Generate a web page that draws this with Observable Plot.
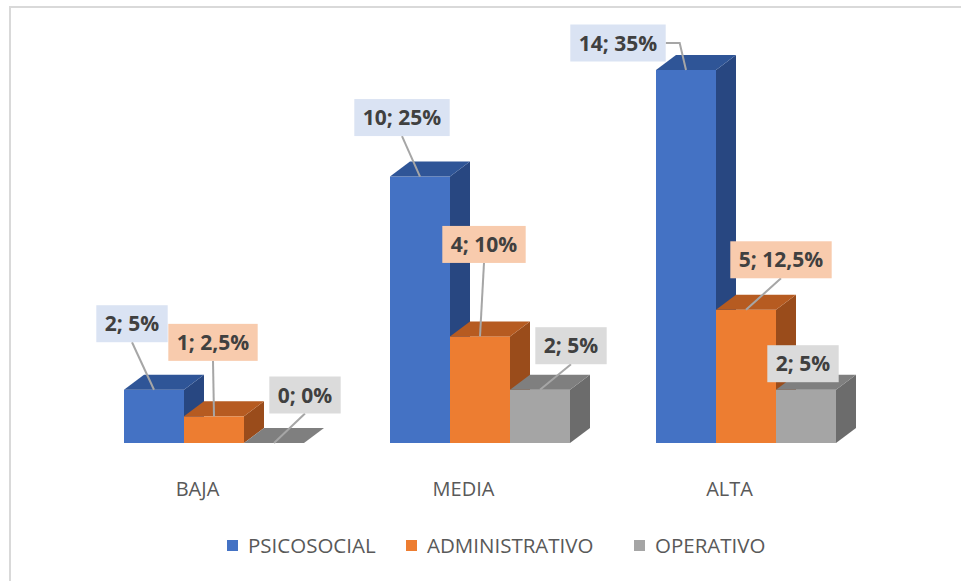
<!DOCTYPE html>
<html>
<head>
<meta charset="utf-8">
<script src="https://cdn.jsdelivr.net/npm/d3@7"></script>
<script src="https://cdn.jsdelivr.net/npm/@observablehq/plot@0.6"></script>
<style>
  body { margin: 0; background: #ffffff; font-family: 'Open Sans', sans-serif; }
  #wrap { position: relative; width: 961px; height: 581px; overflow: hidden; background: #fff; }
  #chart { position: absolute; left: 0; top: 0; }
  #frame { position: absolute; left: 9px; top: 6px; right: -10px; bottom: -10px;
           border-top: 2px solid #d9d9d9; border-left: 2px solid #d9d9d9; pointer-events: none; }
  #legend { position: absolute; left: 0; top: 0; width: 961px; height: 581px; pointer-events: none; }
  .item { position: absolute; top: 532px; height: 26px; display: flex; align-items: center;
          font-size: 20.5px; color: #595959; white-space: nowrap; }
  .sw { width: 11px; height: 11px; margin-right: 10px; }
</style>
</head>
<body>
<div id="wrap">
  <div id="chart"></div>
  <div id="legend"></div>
  <div id="frame"></div>
</div>
<script>
// ---- data ----
const groups = ["BAJA", "MEDIA", "ALTA"];
const series = ["PSICOSOCIAL", "ADMINISTRATIVO", "OPERATIVO"];
const psicosocial    = [2, 10, 14];
const administrativo = [1, 4, 5];
const operativo      = [0, 2, 2];
const pctPsicosocial    = ["5%", "25%", "35%"];
const pctAdministrativo = ["2,5%", "10%", "12,5%"];
const pctOperativo      = ["0%", "5%", "5%"];

// ---- styles ----
const frontColors = ["#4472c4", "#ed7d31", "#a5a5a5"];
const topColors   = ["#2f5597", "#b65b21", "#7f7f7f"];
const sideColors  = ["#284781", "#9a4c1b", "#6c6c6c"];
const labelFills  = ["#dae3f3", "#f8cbad", "#dbdbdb"];
const legendLeft  = [227, 406, 634];
// label box centre offsets from the top-centre of each bar front (px), per group then series
const labelDx = [[-22, -1, 31], [-18, 4, 31], [-68, 35, -3]];
const labelDy = [[-66, -74, -48], [-59, -92, -44], [-27, -50, -26]];
const leaderKind = [["bottom", "bottom", "bottom"], ["bottom", "bottom", "bottom"], ["right", "bottom", "none"]];
const DEPTH_X = 20, DEPTH_Y = -15;

const valuesBySeries = [psicosocial, administrativo, operativo];
const pctBySeries = [pctPsicosocial, pctAdministrativo, pctOperativo];

const table = [];
groups.forEach((g, gi) => {
  series.forEach((s, si) => {
    table.push({
      group: g, series: s, gi, si,
      value: valuesBySeries[si][gi],
      label: `${valuesBySeries[si][gi]}; ${pctBySeries[si][gi]}`
    });
  });
});

const NS = "http://www.w3.org/2000/svg";
const measure = document.createElement("canvas").getContext("2d");
const LABEL_FONT_SIZE = 21;
measure.font = `bold ${LABEL_FONT_SIZE}px 'Open Sans'`;

function el(name, attrs) {
  const e = document.createElementNS(NS, name);
  for (const k in attrs) e.setAttribute(k, attrs[k]);
  return e;
}
function poly(pts, fill) {
  return el("polygon", { points: pts.map(p => p.join(",")).join(" "), fill });
}

function render3d(index, scales, values, dimensions, context, next) {
  const g = next(index, scales, values, dimensions, context);
  const rects = Array.from(g.querySelectorAll("rect"));
  const tops = [];
  rects.forEach((r, j) => {
    const d = table[index[j]];
    const x = +r.getAttribute("x"), y = +r.getAttribute("y");
    const w = +r.getAttribute("width"), h = +r.getAttribute("height");
    const side = poly([[x + w, y], [x + w + DEPTH_X, y + DEPTH_Y], [x + w + DEPTH_X, y + h + DEPTH_Y], [x + w, y + h]], sideColors[d.si]);
    const top = poly([[x, y], [x + DEPTH_X, y + DEPTH_Y], [x + w + DEPTH_X, y + DEPTH_Y], [x + w, y]], topColors[d.si]);
    r.after(side, top);
    tops.push({ d, cx: x + w / 2, cy: y });
  });
  // labels on top of the bars
  tops.forEach(({ d, cx, cy }) => {
    const tw = measure.measureText(d.label).width;
    const bw = tw + 17, bh = 37;
    const lx = cx + labelDx[d.gi][d.si], ly = cy + labelDy[d.gi][d.si];
    const kind = leaderKind[d.gi][d.si];
    if (kind === "bottom") {
      g.appendChild(el("line", { x1: lx, y1: ly + bh / 2, x2: cx, y2: cy, stroke: "#a6a6a6", "stroke-width": 2 }));
    } else if (kind === "right") {
      const ex = lx + bw / 2;
      g.appendChild(el("polyline", { points: `${ex},${ly} ${ex + 14},${ly} ${cx},${cy}`, fill: "none", stroke: "#a6a6a6", "stroke-width": 2 }));
    }
    g.appendChild(el("rect", { x: lx - bw / 2, y: ly - bh / 2, width: bw, height: bh, fill: labelFills[d.si] }));
    const t = el("text", {
      x: lx, y: ly, "text-anchor": "middle", dy: "0.36em",
      "font-family": "'Open Sans', sans-serif", "font-weight": "bold",
      "font-size": LABEL_FONT_SIZE, fill: "#404040"
    });
    t.textContent = d.label;
    g.appendChild(t);
  });
  return g;
}

const chart = Plot.plot({
  width: 961,
  height: 520,
  marginLeft: 124,
  marginRight: 125,
  marginTop: 70,
  marginBottom: 77,
  style: { fontFamily: "'Open Sans', sans-serif", background: "transparent", overflow: "visible" },
  fx: { domain: groups, paddingInner: 86 / 266, paddingOuter: 0, axis: null, label: null },
  x: { domain: series, padding: 0, axis: null, label: null },
  y: { domain: [0, 14], axis: null, label: null },
  color: { domain: series, range: frontColors },
  marks: [
    Plot.barY(table, { fx: "group", x: "series", y: "value", fill: "series", inset: 0, render: render3d }),
    Plot.text(groups, {
      fx: d => d, text: d => d, frameAnchor: "bottom", dy: 46, dx: -17,
      fontSize: 20, fill: "#595959", lineAnchor: "middle"
    })
  ]
});
document.getElementById("chart").appendChild(chart);

// legend
const legend = document.getElementById("legend");
series.forEach((s, i) => {
  const item = document.createElement("div");
  item.className = "item";
  item.style.left = legendLeft[i] + "px";
  const sw = document.createElement("span");
  sw.className = "sw";
  sw.style.background = frontColors[i];
  const tx = document.createElement("span");
  tx.textContent = s;
  item.appendChild(sw);
  item.appendChild(tx);
  legend.appendChild(item);
});
</script>
</body>
</html>
